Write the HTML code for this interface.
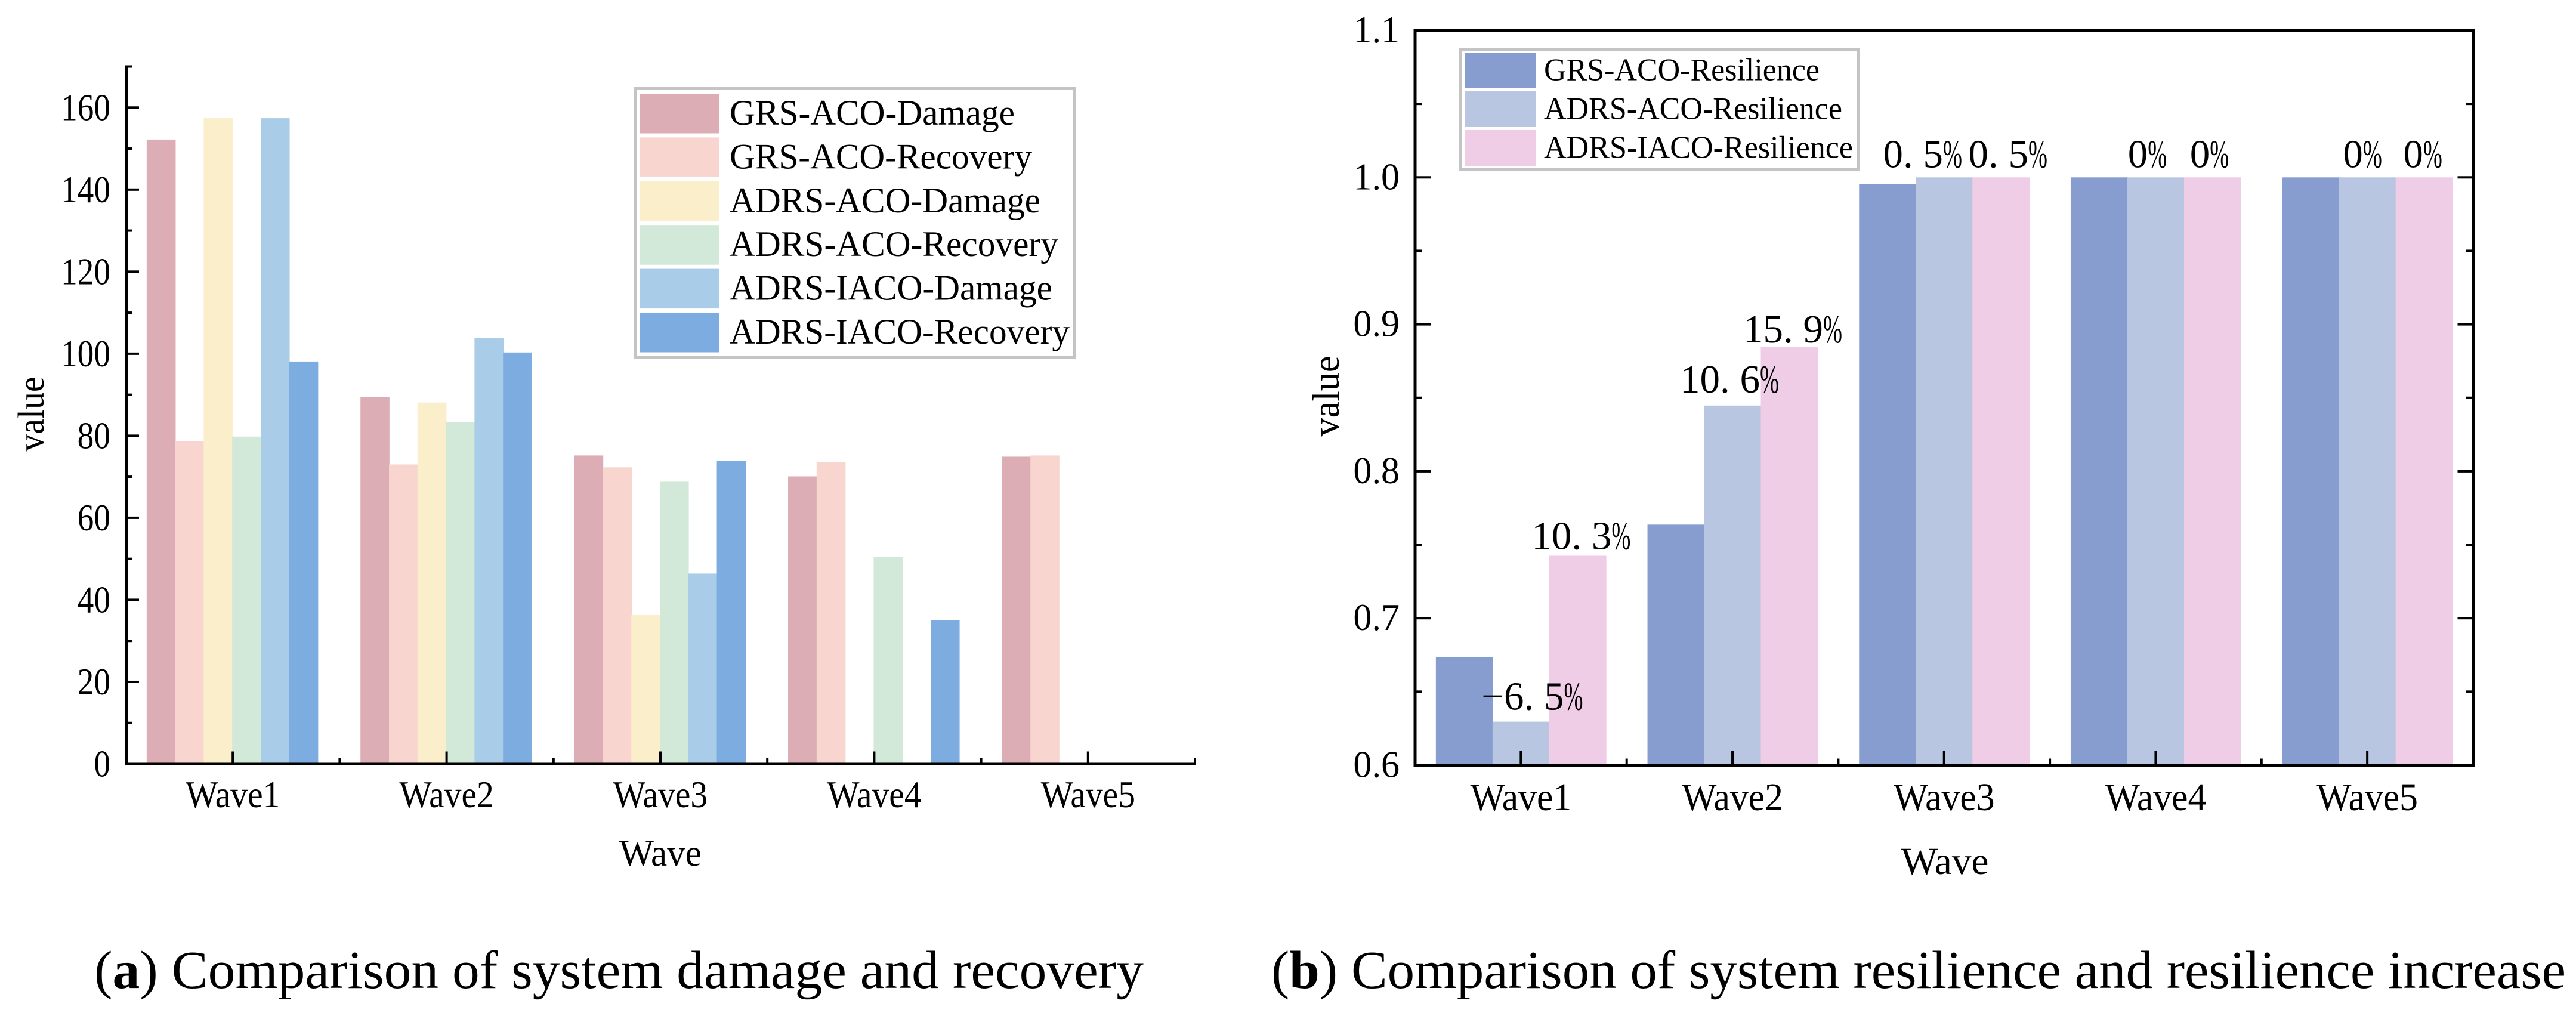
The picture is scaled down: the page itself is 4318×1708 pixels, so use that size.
<!DOCTYPE html>
<html lang="en">
<head>
<meta charset="utf-8">
<title>Comparison of system damage, recovery and resilience</title>
<style>
html,body{margin:0;padding:0;background:#fff;}
svg{display:block;}
text{font-family:"Liberation Serif",serif;fill:#000;}
</style>
</head>
<body>
<svg id="figure" xmlns="http://www.w3.org/2000/svg" width="4318" height="1708" viewBox="0 0 4318 1708">
  <rect width="4318" height="1708" fill="#fff"/>
  <g id="chartA">
    <text x="1107" y="1451" font-size="63" text-anchor="middle" textLength="138" lengthAdjust="spacingAndGlyphs">Wave</text>
    <text transform="translate(73,694) rotate(-90)" font-size="62" text-anchor="middle" textLength="125" lengthAdjust="spacingAndGlyphs">value</text>
  </g>
  <g id="chartB">
    <text x="3260" y="1465" font-size="65" text-anchor="middle" textLength="147" lengthAdjust="spacingAndGlyphs">Wave</text>
    <text transform="translate(2244,664) rotate(-90)" font-size="64" text-anchor="middle" textLength="135" lengthAdjust="spacingAndGlyphs">value</text>
  </g>
  <text x="158" y="1656" font-size="90" textLength="1759" lengthAdjust="spacingAndGlyphs">(<tspan font-weight="bold">a</tspan>) Comparison of system damage and recovery</text>
  <text x="2131" y="1656" font-size="90" textLength="2170" lengthAdjust="spacingAndGlyphs">(<tspan font-weight="bold">b</tspan>) Comparison of system resilience and resilience increase</text>
</svg>
<script>
// ---------- data ----------
const categories = ['Wave1', 'Wave2', 'Wave3', 'Wave4', 'Wave5'];

const seriesNamesA = ['GRS-ACO-Damage', 'GRS-ACO-Recovery', 'ADRS-ACO-Damage', 'ADRS-ACO-Recovery', 'ADRS-IACO-Damage', 'ADRS-IACO-Recovery'];
const grsAcoDamage = [152.2, 89.4, 75.2, 70.1, 74.9];
const grsAcoRecovery = [78.7, 73, 72.3, 73.6, 75.2];
const adrsAcoDamage = [157.4, 88.1, 36.4, 0, 0];
const adrsAcoRecovery = [79.8, 83.4, 68.8, 50.5, 0];
const adrsIacoDamage = [157.4, 103.8, 46.4, 0, 0];
const adrsIacoRecovery = [98.1, 100.3, 73.9, 35.1, 0];
const yMajorTicksA = [0, 20, 40, 60, 80, 100, 120, 140, 160];
const yMinorTicksA = [10, 30, 50, 70, 90, 110, 130, 150, 170];

const seriesNamesB = ['GRS-ACO-Resilience', 'ADRS-ACO-Resilience', 'ADRS-IACO-Resilience'];
const grsAcoResilience = [0.6735, 0.7637, 0.9956, 1, 1];
const adrsAcoResilience = [0.6296, 0.8447, 1, 1, 1];
const adrsIacoResilience = [0.7425, 0.8845, 1, 1, 1];
const acoIncreaseLabels = ['\u22126. 5%', '10. 6%', '0. 5%', '0%', '0%'];
const iacoIncreaseLabels = ['10. 3%', '15. 9%', '0. 5%', '0%', '0%'];
const yMajorTicksB = ['0.6', '0.7', '0.8', '0.9', '1.0', '1.1'];
const yMinorTicksB = [0.65, 0.75, 0.85, 0.95, 1.05];

// ---------- style / layout ----------
const coloursA = ['#dcadb5', '#f8d5cf', '#fbeecb', '#d2e8d8', '#a9cde8', '#7dade0'];
const coloursB = ['#879dd0', '#b9c6e1', '#f0cde6'];
const legendWidthsA = [478, 507, 521, 551, 541, 570];
const legendWidthsB = [462, 500, 518];
const nudgeAco = [[19, 20], [-5, 22], [-36, 17], [-14, 17], [-8, 17]];
const nudgeIaco = [[6, 11], [6, 8], [12, 17], [-5, 17], [-2, 17]];

const NS = 'http://www.w3.org/2000/svg';
const chartA = document.getElementById('chartA');
const chartB = document.getElementById('chartB');

function rect(parent, x, y, w, h, fill, name) {
  const el = document.createElementNS(NS, 'rect');
  el.setAttribute('x', x);
  el.setAttribute('y', y);
  el.setAttribute('width', w);
  el.setAttribute('height', h);
  el.setAttribute('fill', fill);
  
  
  parent.appendChild(el);
  return el;
}
function label(parent, x, y, str, size, anchor, name, sx) {
  const el = document.createElementNS(NS, 'text');
  el.setAttribute('transform', 'translate(' + x + ',' + y + ') scale(' + sx + ',1)');
  el.setAttribute('font-size', size);
  el.setAttribute('text-anchor', anchor);
  el.textContent = str;
  
  
  parent.appendChild(el);
  return el;
}

// ---------- chart A ----------
const A = {left: 211, right: 2003, top: 111.5, bottom: 1280.5, min: 0, max: 170};
const stepA = (A.right - A.left) / categories.length;
const barWA = stepA * 0.8 / 6;
const xA = (c, s) => A.left + stepA * (c + 0.5) - stepA * 0.4 - 1 + barWA * s;
const yA = v => A.bottom - (v - A.min) / (A.max - A.min) * (A.bottom - A.top);

[grsAcoDamage, grsAcoRecovery, adrsAcoDamage, adrsAcoRecovery, adrsIacoDamage, adrsIacoRecovery].forEach((vals, s) => {
  vals.forEach((v, c) => {
    rect(chartA, xA(c, s), yA(v), barWA + 0.8, A.bottom - yA(v), coloursA[s], 'bar-' + seriesNamesA[s].toLowerCase() + '-' + categories[c].toLowerCase());
  });
});
rect(chartA, A.left - 1.5, A.top - 2, 5, A.bottom - A.top + 4, '#000', 'y-axis-line-a');
rect(chartA, A.left - 1.5, A.bottom - 2, A.right - A.left + 3, 4.5, '#000', 'x-axis-line-a');
yMajorTicksA.forEach(v => {
  rect(chartA, A.left + 1, yA(v) - 2, 21, 4, '#000', 'y-major-tick-a');
  label(chartA, 185, yA(v) + 21, String(v), 64, 'end', 'y-tick-label-a', 0.865);
});
yMinorTicksA.forEach(v => {
  rect(chartA, A.left + 1, yA(v) - 2, 10, 4, '#000', 'y-minor-tick-a');
});
categories.forEach((name, c) => {
  const cx = A.left + stepA * (c + 0.5);
  rect(chartA, cx - 2, A.bottom - 21, 4, 21, '#000', 'x-major-tick-a');
  rect(chartA, A.left + stepA * (c + 1) - 2, A.bottom - 10, 4, 10, '#000', 'x-minor-tick-a');
  label(chartA, cx, 1353, name, 63, 'middle', 'x-tick-label-a', 0.914);
});

const legendA = document.createElementNS(NS, 'g');


chartA.appendChild(legendA);
const legendFrameA = rect(legendA, 1065.5, 148.5, 736, 450, '#fff', 'legend-frame-a');
legendFrameA.setAttribute('stroke', '#c4c4c4');
legendFrameA.setAttribute('stroke-width', '5');
seriesNamesA.forEach((name, s) => {
  const top = 157 + s * 73.4;
  rect(legendA, 1072, top, 133.5, 66.5, coloursA[s], 'legend-swatch-a');
  const t = label(legendA, 1223, top + 52, name, 60, 'start', 'legend-label-a', 1);
  t.setAttribute('textLength', legendWidthsA[s]);
  t.setAttribute('lengthAdjust', 'spacingAndGlyphs');
});

// ---------- chart B ----------
const B = {left: 2372, right: 4145.5, top: 51, bottom: 1282.5, min: 0.6, max: 1.1};
const stepB = (B.right - B.left) / categories.length;
const barWB = 95;
const xB = (c, s) => B.left + stepB * (c + 0.5) - barWB * 1.5 + barWB * s;
const yB = v => B.bottom - (v - B.min) / (B.max - B.min) * (B.bottom - B.top);

[grsAcoResilience, adrsAcoResilience, adrsIacoResilience].forEach((vals, s) => {
  vals.forEach((v, c) => {
    rect(chartB, xB(c, s), yB(v), barWB + 0.8, B.bottom - yB(v), coloursB[s], 'bar-' + seriesNamesB[s].toLowerCase() + '-' + categories[c].toLowerCase());
  });
});

function increaseLabel(str, x, y, name) {
  const t = document.createElementNS(NS, 'text');
  t.setAttribute('x', x);
  t.setAttribute('y', y);
  t.setAttribute('font-size', '67');
  t.setAttribute('text-anchor', 'middle');
  
  
  t.appendChild(document.createTextNode(str.slice(0, -1)));
  const pct = document.createElementNS(NS, 'tspan');
  pct.setAttribute('textLength', '32');
  pct.setAttribute('lengthAdjust', 'spacingAndGlyphs');
  pct.textContent = '%';
  t.appendChild(pct);
  chartB.appendChild(t);
}
categories.forEach((name, c) => {
  increaseLabel(acoIncreaseLabels[c], xB(c, 1) + barWB / 2 + nudgeAco[c][0], yB(adrsAcoResilience[c]) - nudgeAco[c][1], 'aco-increase-label');
  increaseLabel(iacoIncreaseLabels[c], xB(c, 2) + barWB / 2 + nudgeIaco[c][0], yB(adrsIacoResilience[c]) - nudgeIaco[c][1], 'iaco-increase-label');
});

const frameB = rect(chartB, B.left, B.top, B.right - B.left, B.bottom - B.top, 'none', 'plot-frame-b');
frameB.setAttribute('stroke', '#000');
frameB.setAttribute('stroke-width', '5');
yMajorTicksB.forEach(v => {
  const n = parseFloat(v);
  label(chartB, 2346, yB(n) + 20, v, 64, 'end', 'y-tick-label-b', 0.97);
  if (n > B.min && n < B.max) {
    rect(chartB, B.left, yB(n) - 2, 26, 4, '#000', 'y-major-tick-left-b');
    rect(chartB, B.right - 26, yB(n) - 2, 26, 4, '#000', 'y-major-tick-right-b');
  }
});
yMinorTicksB.forEach(v => {
  rect(chartB, B.left, yB(v) - 2, 12, 4, '#000', 'y-minor-tick-left-b');
  rect(chartB, B.right - 12, yB(v) - 2, 12, 4, '#000', 'y-minor-tick-right-b');
});
categories.forEach((name, c) => {
  const cx = B.left + stepB * (c + 0.5);
  rect(chartB, cx - 2, B.bottom - 24, 4, 24, '#000', 'x-major-tick-b');
  if (c < categories.length - 1) {
    rect(chartB, B.left + stepB * (c + 1) - 2, B.bottom - 11, 4, 11, '#000', 'x-minor-tick-b');
  }
  label(chartB, cx, 1358, name, 66, 'middle', 'x-tick-label-b', 0.935);
});

const legendB = document.createElementNS(NS, 'g');


chartB.appendChild(legendB);
const legendFrameB = rect(legendB, 2448.5, 82.5, 666, 202, '#fff', 'legend-frame-b');
legendFrameB.setAttribute('stroke', '#c4c4c4');
legendFrameB.setAttribute('stroke-width', '5');
seriesNamesB.forEach((name, s) => {
  const top = 88 + s * 65;
  rect(legendB, 2455, top, 119, 60, coloursB[s], 'legend-swatch-b');
  const t = label(legendB, 2588, top + 46.5, name, 53, 'start', 'legend-label-b', 1);
  t.setAttribute('textLength', legendWidthsB[s]);
  t.setAttribute('lengthAdjust', 'spacingAndGlyphs');
});
</script>
</body>
</html>
